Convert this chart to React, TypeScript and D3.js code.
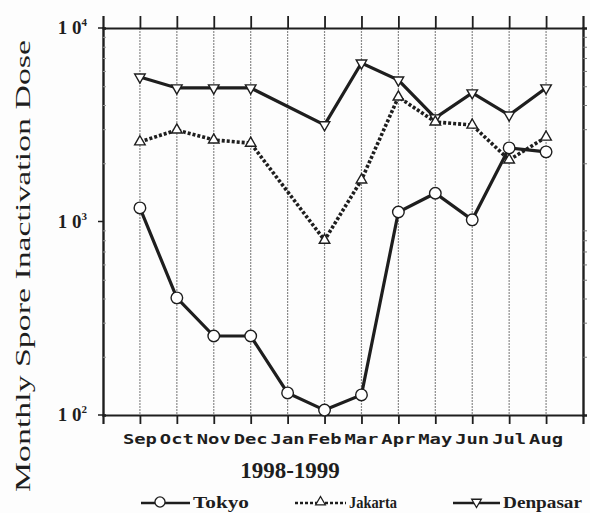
import React, {useEffect, useRef} from "react";
import * as d3 from 'd3';

const months = ["Sep", "Oct", "Nov", "Dec", "Jan", "Feb", "Mar", "Apr", "May", "Jun", "Jul", "Aug"];
const tokyo: (number | null)[] = [1175, 403, 256, 256, 130, 106, 127, 1120, 1400, 1020, 2400, 2290];
// no January marker for these two in the original; the line runs straight from Dec to Feb
const jakarta: (number | null)[] = [2580, 2970, 2640, 2540, null, 800, 1640, 4400, 3270, 3150, 2080, 2730];
const denpasar: (number | null)[] = [5580, 4900, 4900, 4900, null, 3160, 6590, 5380, 3430, 4620, 3550, 4900];
const yTicks = [100, 1000, 10000];

const ink = "#1e1e1e";

const App: React.FC = () => {
    const svgRef = useRef<SVGSVGElement | null>(null);

    useEffect(() => {
        if (!svgRef.current) return;
        const W = 590, H = 513;
        const margin = {top: 28, right: 7, bottom: 98, left: 103};
        const width = W - margin.left - margin.right;
        const height = H - margin.top - margin.bottom;

        const root = d3.select(svgRef.current);
        root.selectAll("*").remove();
        root.attr("width", W).attr("height", H);
        root.append("rect").attr("width", W).attr("height", H).attr("fill", "#fdfdfd");

        const svg = root.append("g").attr("transform", `translate(${margin.left},${margin.top})`);

        const x = d3.scalePoint<string>().domain(months).range([0, width]).padding(1);
        const y = d3.scaleLog().domain([100, 10000]).range([height, 0]);

        // vertical month grid
        svg.append("g").selectAll("line")
            .data(months).enter().append("line")
            .attr("x1", d => x(d)!).attr("x2", d => x(d)!)
            .attr("y1", 0).attr("y2", height)
            .attr("stroke", "#8a8a8a").attr("stroke-width", 1.2)
            .attr("stroke-dasharray", "2,1");

        // top / bottom month ticks
        svg.append("g").call(d3.axisTop(x).tickSize(12).tickFormat(() => ""))
            .call(g => g.select(".domain").attr("stroke-width", 2.2).attr("stroke", ink))
            .call(g => g.selectAll(".tick line").attr("stroke-width", 1.8).attr("stroke", ink));
        svg.append("g").attr("transform", `translate(0,${height})`)
            .call(d3.axisBottom(x).tickSize(9).tickFormat(() => ""))
            .call(g => g.select(".domain").attr("stroke-width", 2.2).attr("stroke", ink))
            .call(g => g.selectAll(".tick line").attr("stroke-width", 1.8).attr("stroke", ink));

        // left and right log axes with minor ticks inside
        const minor = y.ticks().filter(v => !yTicks.includes(v));
        svg.append("g")
            .call(d3.axisLeft(y).tickValues(minor).tickSize(-3).tickFormat(() => ""))
            .call(g => g.select(".domain").attr("stroke-width", 2.4).attr("stroke", ink))
            .call(g => g.selectAll(".tick line").attr("stroke", "#999"));
        svg.append("g").attr("transform", `translate(${width},0)`)
            .call(d3.axisRight(y).tickValues(minor).tickSize(4).tickFormat(() => ""))
            .call(g => g.select(".domain").attr("stroke-width", 2.4).attr("stroke", ink))
            .call(g => g.selectAll(".tick line").attr("stroke", "#777"));
        svg.append("g").selectAll("line.major")
            .data(yTicks).enter().append("line").attr("class", "major")
            .attr("x1", -5).attr("x2", 0)
            .attr("y1", d => y(d)).attr("y2", d => y(d))
            .attr("stroke", ink).attr("stroke-width", 1.5);

        // y tick labels "1 0^n"
        const yl = svg.append("g").selectAll("text.ylab")
            .data(yTicks).enter().append("text").attr("class", "ylab")
            .attr("x", -16).attr("y", d => y(d) + 6)
            .attr("text-anchor", "end")
            .style("font-family", "'Liberation Serif', serif")
            .style("font-weight", "bold").style("font-size", "19px").attr("fill", ink);
        yl.append("tspan").text("1 0");
        yl.append("tspan").attr("dy", -8).style("font-size", "11px").text(d => String(Math.round(Math.log10(d))));

        // series
        const line = d3.line<[number, number]>().x(d => x(months[d[0]])!).y(d => y(d[1]));
        const series = [
            {name: "Denpasar", values: denpasar, dash: null, marker: "down"},
            {name: "Jakarta", values: jakarta, dash: "3,2", marker: "up"},
            {name: "Tokyo", values: tokyo, dash: null, marker: "circle"},
        ];
        const tri = d3.symbol().type(d3.symbolTriangle).size(48);
        const circ = d3.symbol().type(d3.symbolCircle).size(105);

        series.forEach(s => {
            const pts = s.values.map((v, i) => [i, v] as [number, number | null])
                .filter(p => p[1] != null) as [number, number][];
            svg.append("path").datum(pts)
                .attr("d", line).attr("fill", "none")
                .attr("stroke", ink).attr("stroke-width", s.dash ? 3.6 : 3.2)
                .attr("stroke-dasharray", s.dash as any);
            svg.append("g").selectAll("path")
                .data(pts).enter().append("path")
                .attr("d", s.marker === "circle" ? circ() : tri())
                .attr("transform", d => `translate(${x(months[d[0]])},${y(d[1])})${s.marker === "down" ? " rotate(180)" : ""}`)
                .attr("fill", "#fff").attr("stroke", ink).attr("stroke-width", 1.4);
        });

        // x labels
        root.append("g").selectAll("text.xlab")
            .data(months).enter().append("text").attr("class", "xlab")
            .attr("x", d => margin.left + x(d)!).attr("y", 444)
            .attr("text-anchor", "middle")
            .attr("textLength", 34).attr("lengthAdjust", "spacingAndGlyphs")
            .style("font-family", "'DejaVu Sans Mono', monospace")
            .style("font-weight", "bold").style("font-size", "14px").attr("fill", ink)
            .text(d => d);

        root.append("text").attr("x", 290).attr("y", 478).attr("text-anchor", "middle")
            .style("font-family", "'Liberation Serif', serif").style("font-weight", "bold")
            .style("font-size", "23px").attr("fill", ink).text("1998-1999");

        root.append("text")
            .attr("transform", "translate(30,266) rotate(-90)")
            .attr("text-anchor", "middle")
            .attr("textLength", 452).attr("lengthAdjust", "spacingAndGlyphs")
            .style("font-family", "'Liberation Serif', serif")
            .style("font-size", "22px").attr("fill", ink)
            .text("Monthly Spore Inactivation Dose");

        // legend
        const legend = [
            {label: "Tokyo", x0: 141, x1: 190, tx: 193, tw: 56, dash: null, marker: "circle"},
            {label: "Jakarta", x0: 295, x1: 346, tx: 349, tw: 48, dash: "3,2", marker: "up"},
            {label: "Denpasar", x0: 453, x1: 500, tx: 503, tw: 79, dash: null, marker: "down"},
        ];
        const lg = root.append("g").selectAll("g").data(legend).enter().append("g");
        lg.append("line").attr("x1", d => d.x0).attr("x2", d => d.x1)
            .attr("y1", 503).attr("y2", 503)
            .attr("stroke", ink).attr("stroke-width", 2.4)
            .attr("stroke-dasharray", d => d.dash as any);
        lg.append("path")
            .attr("d", d => d.marker === "circle" ? d3.symbol().type(d3.symbolCircle).size(80)() : d3.symbol().type(d3.symbolTriangle).size(40)())
            .attr("transform", d => `translate(${d.marker === "circle" ? d.x0 + 19 : (d.x0 + d.x1) / 2},502)${d.marker === "down" ? " rotate(180)" : ""}`)
            .attr("fill", "#fff").attr("stroke", ink).attr("stroke-width", 1.3);
        lg.append("text").attr("x", d => d.tx).attr("y", 508)
            .attr("textLength", d => d.tw).attr("lengthAdjust", "spacingAndGlyphs")
            .style("font-family", "'Liberation Serif', serif").style("font-weight", "bold")
            .style("font-size", "16px").attr("fill", ink)
            .text(d => d.label);
    }, []);

    return (
        <svg ref={svgRef} style={{position: "absolute", left: 0, top: 0}}></svg>
    );
};

export default App;
